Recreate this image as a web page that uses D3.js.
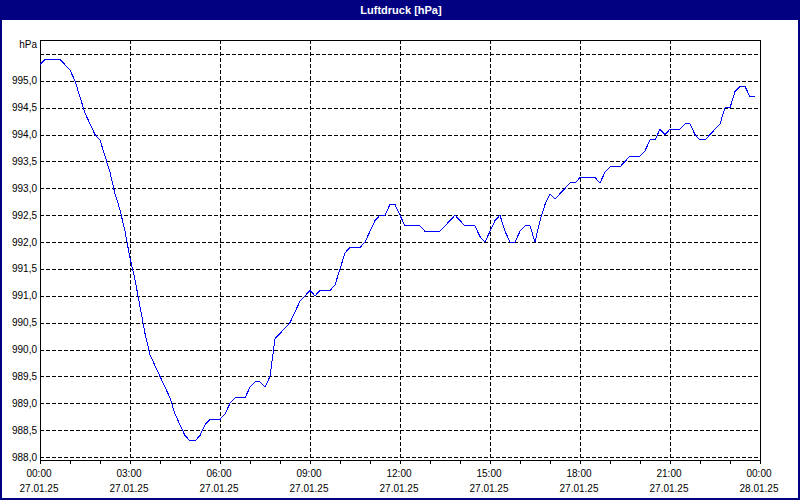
<!DOCTYPE html>
<html>
<head>
<meta charset="utf-8">
<script src="https://cdn.jsdelivr.net/npm/d3@7/dist/d3.min.js"></script>
<style>
  html, body { margin: 0; padding: 0; background: #fff; }
  svg { display: block; }
  text { font-family: "Liberation Sans", Arial, sans-serif; }
</style>
</head>
<body>
<svg id="chart" width="800" height="500"></svg>
<script>
// ---- data ----
const title = "Luftdruck [hPa]";
const unitLabel = "hPa";
const startTime = "2025-01-27T00:00:00";
const endTime = "2025-01-28T00:00:00";
const stepMinutes = 10;
// pressure readings every 10 minutes, 00:00 .. 23:50
const pressure = [
  995.3, 995.4, 995.4, 995.4, 995.4, 995.3, 995.2, 995.0, 994.7, 994.4,
  994.2, 994.0, 993.9, 993.6, 993.3, 992.9, 992.6, 992.2, 991.7, 991.3,
  990.8, 990.3, 989.9, 989.7, 989.5, 989.3, 989.1, 988.8, 988.6, 988.4,
  988.3, 988.3, 988.4, 988.6, 988.7, 988.7, 988.7, 988.8, 989.0, 989.1,
  989.1, 989.1, 989.3, 989.4, 989.4, 989.3, 989.5, 990.2, 990.3, 990.4,
  990.5, 990.7, 990.9, 991.0, 991.1, 991.0, 991.1, 991.1, 991.1, 991.2,
  991.5, 991.8, 991.9, 991.9, 991.9, 992.0, 992.2, 992.4, 992.5, 992.5,
  992.7, 992.7, 992.5, 992.3, 992.3, 992.3, 992.3, 992.2, 992.2, 992.2,
  992.2, 992.3, 992.4, 992.5, 992.4, 992.3, 992.3, 992.3, 992.1, 992.0,
  992.2, 992.4, 992.5, 992.2, 992.0, 992.0, 992.2, 992.3, 992.3, 992.0,
  992.4, 992.7, 992.9, 992.8, 992.9, 993.0, 993.1, 993.1, 993.2, 993.2,
  993.2, 993.2, 993.1, 993.3, 993.4, 993.4, 993.4, 993.5, 993.6, 993.6,
  993.6, 993.7, 993.9, 993.9, 994.1, 994.0, 994.1, 994.1, 994.1, 994.2,
  994.2, 994.0, 993.9, 993.9, 994.0, 994.1, 994.2, 994.5, 994.5, 994.8,
  994.9, 994.9, 994.7, 994.7
];
const yGridValues = [988.0, 988.5, 989.0, 989.5, 990.0, 990.5, 991.0, 991.5,
  992.0, 992.5, 993.0, 993.5, 994.0, 994.5, 995.0, 995.5];
const yLabelValues = [988.0, 988.5, 989.0, 989.5, 990.0, 990.5, 991.0, 991.5,
  992.0, 992.5, 993.0, 993.5, 994.0, 994.5, 995.0];
const xLabelHours = 3;   // labelled ticks every 3 hours
const xMinorHours = 1;   // small ticks every hour

// ---- layout ----
const W = 800, H = 500;
const plot = { left: 40, right: 760, top: 40, bottom: 460 };
const navy = "#000080";

const svg = d3.select("#chart");

// background + frame
svg.append("rect").attr("x", 0).attr("y", 0).attr("width", W).attr("height", H).attr("fill", "#fff");
svg.append("rect").attr("x", 0).attr("y", 0).attr("width", W).attr("height", 20).attr("fill", navy);
svg.append("rect").attr("x", 1).attr("y", 1).attr("width", W - 2).attr("height", H - 2)
  .attr("fill", "none").attr("stroke", navy).attr("stroke-width", 2);

svg.append("text").attr("x", 401).attr("y", 14).attr("text-anchor", "middle")
  .attr("fill", "#fff").attr("font-weight", "bold").attr("font-size", "11px").text(title);

// scales
const parse = d3.isoParse;
const t0 = parse(startTime), t1 = parse(endTime);
const x = d3.scaleTime().domain([t0, t1]).range([plot.left, plot.right]);
const y = d3.scaleLinear().domain([988.0, 995.5]).range([457, 54]);

const data = pressure.map((v, i) => ({ t: d3.timeMinute.offset(t0, i * stepMinutes), v }));

const px = v => Math.round(v) + 0.5;
const dash = "4,2";

// horizontal grid
svg.append("g").selectAll("line").data(yGridValues).join("line")
  .attr("x1", plot.left).attr("x2", plot.right)
  .attr("y1", d => px(y(d))).attr("y2", d => px(y(d)))
  .attr("stroke", "#000").attr("stroke-width", 1).attr("stroke-dasharray", dash)
  .attr("shape-rendering", "crispEdges");

// vertical grid
const majorTimes = d3.timeHour.every(xLabelHours).range(t0, d3.timeMinute.offset(t1, 1));
const minorTimes = d3.timeHour.every(xMinorHours).range(t0, d3.timeMinute.offset(t1, 1));
svg.append("g").selectAll("line").data(majorTimes.filter(d => +d > +t0 && +d < +t1)).join("line")
  .attr("x1", d => px(x(d))).attr("x2", d => px(x(d)))
  .attr("y1", plot.top).attr("y2", plot.bottom)
  .attr("stroke", "#000").attr("stroke-width", 1).attr("stroke-dasharray", dash)
  .attr("shape-rendering", "crispEdges");

// frame of plot area
svg.append("rect").attr("x", plot.left + 0.5).attr("y", plot.top + 0.5)
  .attr("width", plot.right - plot.left).attr("height", plot.bottom - plot.top)
  .attr("fill", "none").attr("stroke", "#000").attr("stroke-width", 1)
  .attr("shape-rendering", "crispEdges");

// x axis ticks
svg.append("g").selectAll("line").data(minorTimes).join("line")
  .attr("x1", d => px(x(d))).attr("x2", d => px(x(d)))
  .attr("y1", plot.bottom).attr("y2", plot.bottom + 4)
  .attr("stroke", "#000").attr("stroke-width", 1).attr("shape-rendering", "crispEdges");

const fmtTime = d3.timeFormat("%H:%M");
const fmtDate = d3.timeFormat("%d.%m.%y");
const xl = svg.append("g").attr("font-size", "10px").attr("fill", "#000").attr("text-anchor", "middle");
xl.selectAll("text.t").data(majorTimes).join("text").attr("class", "t")
  .attr("x", d => x(d) - 1).attr("y", 477).text(fmtTime);
xl.selectAll("text.d").data(majorTimes).join("text").attr("class", "d")
  .attr("x", d => x(d) - 1).attr("y", 492).text(fmtDate);

// y labels
const fmtY = v => d3.format(".1f")(v).replace(".", ",");
const yl = svg.append("g").attr("font-size", "10px").attr("fill", "#000").attr("text-anchor", "end");
yl.selectAll("text").data(yLabelValues).join("text")
  .attr("x", 37).attr("y", d => y(d) + 3.5).text(fmtY);
yl.append("text").attr("x", 37).attr("y", 48).text(unitLabel);

// line
const line = d3.line().x(d => x(d.t)).y(d => y(d.v));
svg.append("path").datum(data).attr("d", line)
  .attr("fill", "none").attr("stroke", "#0000ff").attr("stroke-width", 1)
  .attr("shape-rendering", "crispEdges");
</script>
</body>
</html>
